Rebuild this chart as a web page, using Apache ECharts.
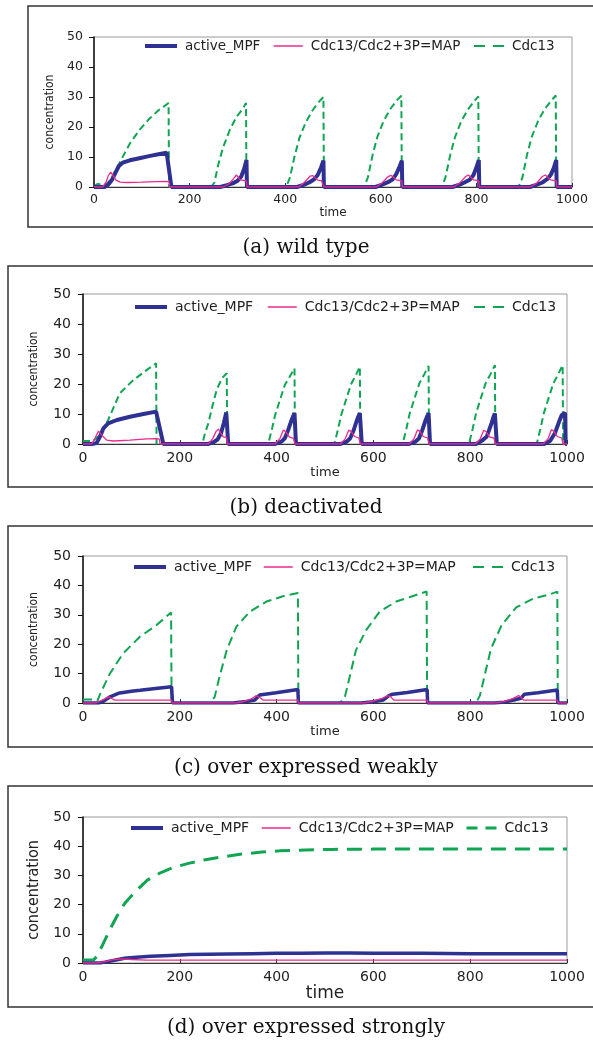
<!DOCTYPE html>
<html><head><meta charset="utf-8">
<script src="https://cdn.jsdelivr.net/npm/echarts@6/dist/echarts.min.js"></script>
<style>html,body{margin:0;padding:0;background:#fff}#c{width:593px;height:1040px}</style>
</head><body><div id="c"></div>
<script>
// ---------- tick labels / categories ----------
const X_MIN = 0, X_MAX = 1000, X_STEP = 200;
const Y_MIN = 0, Y_MAX = 50, Y_STEP = 10;
const SERIES_NAMES = ['active_MPF', 'Cdc13/Cdc2+3P=MAP', 'Cdc13'];
const CAPTIONS = ['(a) wild type', '(b) deactivated', '(c) over expressed weakly', '(d) over expressed strongly'];

// ---------- (a) wild type ----------
const A_MPF_T = [0, 22, 30, 38, 45, 52, 60, 75, 95, 115, 135, 152, 155, 162,
  264, 278, 290, 300, 308, 314, 319, 320,
  425, 440, 450, 460, 468, 475, 480, 481,
  589, 603, 615, 625, 632, 638, 644, 645,
  750, 765, 775, 786, 794, 800, 805, 806,
  912, 927, 938, 948, 956, 962, 967, 968, 1000];
const A_MPF_V = [0, 0, 0.8, 2.5, 4.8, 7.0, 8.1, 8.9, 9.6, 10.3, 10.9, 11.4, 11.5, 0,
  0, 0.6, 1.2, 2.0, 3.5, 6.0, 9.0, 0,
  0, 0.8, 1.5, 2.5, 4.0, 6.5, 8.8, 0,
  0, 0.8, 1.6, 2.6, 4.2, 6.3, 8.8, 0,
  0, 0.8, 1.5, 2.4, 4.0, 6.5, 9.0, 0,
  0, 0.8, 1.5, 2.6, 4.2, 6.4, 9.0, 0, 0];
const A_MAP_T = [0, 18, 25, 30, 35, 40, 46, 55, 70, 100, 130, 150, 157, 158,
  270, 282, 292, 298, 302, 306, 313, 319, 320,
  428, 440, 452, 458, 462, 468, 476, 480, 481,
  590, 603, 615, 621, 626, 632, 639, 644, 645,
  752, 765, 777, 783, 788, 794, 800, 805, 806,
  913, 926, 938, 944, 949, 955, 962, 967, 968, 1000];
const A_MAP_V = [0, 0, 1.5, 3.8, 5.0, 3.8, 2.3, 1.6, 1.5, 1.6, 1.8, 1.9, 1.8, 0,
  0, 1.0, 2.8, 4.0, 3.6, 2.4, 2.2, 2.0, 0,
  0, 1.5, 3.6, 3.8, 3.3, 2.3, 2.1, 2.0, 0,
  0, 1.4, 3.4, 3.9, 3.3, 2.4, 2.2, 2.0, 0,
  0, 1.3, 3.4, 4.0, 3.3, 2.4, 2.2, 2.0, 0,
  0, 1.3, 3.5, 4.0, 3.3, 2.4, 2.2, 2.0, 0, 0];
const A_CDC_T = [0, 8, 15, 25, 35, 45, 55, 75, 95, 115, 135, 150, 156, 157,
  245, 252, 260, 270, 284, 298, 312, 318, 319,
  402, 410, 420, 430, 443, 457, 470, 480, 481,
  565, 573, 583, 593, 606, 620, 633, 643, 644,
  727, 735, 745, 755, 768, 782, 795, 804, 805,
  888, 896, 906, 916, 929, 943, 956, 966, 967, 1000];
const A_CDC_V = [0.3, 1.0, 0.8, 0.8, 2.5, 5.5, 8.5, 14.5, 19.0, 22.6, 25.6, 27.3, 28.0, 0,
  0, 1.5, 7.5, 13.2, 19.0, 23.4, 26.2, 28.0, 0,
  0, 3.2, 10.5, 16.5, 21.5, 25.5, 28.3, 30.0, 0,
  0, 3.2, 10.8, 16.8, 22.0, 26.0, 28.8, 30.4, 0,
  0, 3.0, 10.5, 16.5, 21.8, 25.8, 28.5, 30.2, 0,
  0, 3.0, 10.8, 16.8, 22.0, 26.0, 28.7, 30.5, 0, 0];

// ---------- (b) deactivated ----------
const B_MPF_T = [0, 18, 28, 35, 42, 52, 70, 97, 125, 151, 155, 166,
  258, 270, 278, 285, 291, 296, 297, 299, 300,
  397, 410, 417, 424, 431, 437, 439, 440,
  532, 545, 552, 559, 566, 572, 575, 576,
  674, 687, 694, 701, 708, 714, 716, 717,
  812, 825, 834, 844, 848, 851, 854, 855,
  953, 965, 975, 985, 989, 991, 996, 997, 1000];
const B_MPF_V = [0, 0, 0.3, 2.4, 5.2, 6.9, 8.0, 9.1, 10.0, 10.8, 10.8, 0,
  0, 0.6, 1.5, 3.5, 7.0, 10.5, 10.8, 10.8, 0,
  0, 0.8, 1.9, 4.7, 8.0, 10.3, 10.5, 0,
  0, 0.8, 1.9, 4.5, 8.0, 10.3, 10.5, 0,
  0, 0.8, 1.8, 4.6, 8.0, 10.3, 10.5, 0,
  0, 1.2, 2.4, 6.9, 9.0, 10.2, 10.4, 0,
  0, 1.0, 3.6, 8.0, 9.6, 10.2, 10.4, 0, 0];
const B_MAP_T = [0, 18, 25, 32, 36, 42, 49, 63, 97, 132, 152, 158, 159,
  259, 268, 275, 280, 285, 290, 297, 298,
  397, 407, 414, 419, 426, 435, 437, 438,
  532, 542, 549, 554, 561, 570, 572, 573,
  674, 684, 691, 696, 703, 712, 714, 715,
  811, 821, 828, 833, 840, 849, 851, 852,
  951, 961, 968, 973, 980, 989, 991, 992, 1000];
const B_MAP_V = [0, 0, 2.0, 4.3, 4.8, 2.4, 1.3, 1.0, 1.3, 1.7, 1.8, 1.6, 0,
  0, 1.8, 4.2, 5.0, 3.5, 2.4, 2.1, 0,
  0, 1.9, 4.7, 4.1, 2.4, 1.9, 1.9, 0,
  0, 1.8, 4.6, 4.2, 2.5, 2.0, 1.9, 0,
  0, 1.8, 4.7, 4.2, 2.5, 2.0, 1.9, 0,
  0, 1.8, 4.6, 4.1, 2.4, 2.0, 1.9, 0,
  0, 1.8, 4.8, 4.2, 2.5, 2.0, 1.9, 0, 0];
const B_CDC_T = [0, 20, 24, 35, 52, 76, 104, 132, 151, 152,
  240, 247, 252, 259, 268, 276, 287, 297, 298,
  375, 383, 390, 397, 407, 417, 427, 437, 438,
  512, 520, 527, 534, 544, 554, 564, 572, 573,
  653, 661, 668, 675, 685, 695, 705, 714, 715,
  790, 798, 805, 812, 822, 832, 842, 851, 852,
  930, 938, 945, 952, 962, 972, 982, 991, 992, 1000];
const B_CDC_V = [1.0, 1.0, 0.5, 3.0, 8.0, 16.9, 21.3, 24.7, 26.9, 0,
  0, 0.3, 3.6, 6.9, 13.0, 18.0, 21.9, 23.6, 0,
  0, 0.3, 4.7, 9.7, 14.7, 19.7, 22.4, 25.2, 0,
  0, 0.4, 5.0, 10.0, 15.0, 20.0, 23.0, 25.8, 0,
  0, 0.4, 5.0, 10.2, 15.2, 20.2, 23.2, 26.0, 0,
  0, 0.4, 5.0, 10.2, 15.3, 20.3, 23.3, 26.3, 0,
  0, 0.4, 5.0, 10.2, 15.3, 20.3, 23.3, 26.3, 0, 0];

// ---------- (c) over expressed weakly ----------
const C_MPF_T = [0, 33, 42, 56, 73, 100, 118, 150, 183, 184, 185,
  310, 337, 355, 365, 372, 399, 444, 445,
  575, 600, 620, 632, 640, 670, 711, 712,
  850, 870, 890, 905, 912, 940, 980, 981, 1000];
const C_MPF_V = [0, 0, 0.6, 2.1, 3.3, 4.0, 4.3, 4.9, 5.5, 5.5, 0,
  0, 0.5, 1.0, 2.7, 2.9, 3.5, 4.6, 0,
  0, 0.4, 1.0, 2.5, 3.0, 3.6, 4.6, 0,
  0, 0.3, 1.0, 1.6, 3.0, 3.5, 4.4, 0, 0];
const C_MAP_T = [0, 25, 40, 53, 60, 66, 120, 183, 184,
  315, 335, 350, 358, 366, 372, 444, 445,
  580, 600, 618, 630, 636, 642, 711, 712,
  850, 870, 888, 900, 905, 910, 980, 981, 1000];
const C_MAP_V = [0, 0, 1.0, 2.1, 1.5, 1.0, 1.0, 1.0, 0,
  0, 0.6, 1.6, 2.5, 1.8, 1.0, 1.0, 0,
  0, 0.6, 1.6, 2.5, 2.1, 1.0, 1.0, 0,
  0, 0.5, 1.5, 2.5, 2.0, 1.0, 1.0, 0, 0];
const C_CDC_T = [0, 25, 30, 36, 56, 83, 118, 152, 182, 183,
  262, 272, 282, 297, 317, 345, 379, 413, 444, 445,
  531, 541, 551, 564, 585, 613, 647, 682, 710, 711,
  812, 820, 830, 843, 865, 895, 930, 965, 980, 981, 1000];
const C_CDC_V = [1.2, 1.2, 0.8, 3.3, 10.1, 16.9, 22.6, 26.5, 30.8, 0,
  0, 2.0, 8.9, 18.0, 26.0, 31.1, 34.5, 36.3, 37.4, 0,
  0, 2.0, 8.9, 18.0, 24.8, 31.1, 34.5, 36.4, 37.9, 0,
  0, 2.5, 9.5, 18.5, 26.5, 32.5, 35.5, 37.0, 37.9, 0, 0];

// ---------- (d) over expressed strongly ----------
const D_MPF_T = [0, 35, 45, 60, 86, 110, 140, 180, 220, 260, 300, 350, 400, 450, 500, 550, 600, 700, 800, 900, 1000];
const D_MPF_V = [0, 0, 0.3, 0.8, 1.6, 2.0, 2.3, 2.6, 2.9, 3.0, 3.1, 3.2, 3.3, 3.3, 3.4, 3.4, 3.3, 3.3, 3.2, 3.2, 3.2];
const D_MAP_T = [0, 30, 45, 60, 80, 100, 130, 200, 400, 600, 800, 1000];
const D_MAP_V = [0, 0, 0.5, 1.1, 1.4, 1.2, 1.0, 1.0, 1.0, 1.0, 1.0, 1.0];
const D_CDC_T = [0, 22, 28, 40, 55, 70, 86, 110, 133, 160, 188, 220, 250, 290, 328, 370, 406, 460, 515, 600, 700, 800, 900, 1000];
const D_CDC_V = [1.0, 1.0, 2.2, 6.0, 11.3, 16.0, 20.4, 24.8, 28.4, 30.9, 32.8, 34.2, 35.3, 36.4, 37.3, 38.0, 38.4, 38.7, 38.9, 39.0, 39.0, 39.0, 39.0, 39.0];

// ---------- layout / style ----------
const NAVY = '#2e3192', PINK = '#ee2a8c', GREEN = '#0fa552';
const PANELS = [
  {grid:{left:94,right:21,top:37,height:150}, box:[28,6,221], tick:12.5, leg:13.5, legY:46, legX:[143,273,473],
   yName:{size:12, gap:37}, xName:{size:12, gap:19}, yMargin:11, xMargin:6, capY:248,
   mpf:[A_MPF_T,A_MPF_V], map:[A_MAP_T,A_MAP_V], cdc:[A_CDC_T,A_CDC_V], mpfW:4, dash:[7,4], cdcW:2},
  {grid:{left:83,right:26,top:294,height:150}, box:[8,266,221], tick:14, leg:14, legY:307, legX:[133,267,473],
   yName:{size:12, gap:43}, xName:{size:13, gap:21}, yMargin:12, xMargin:7, capY:508,
   mpf:[B_MPF_T,B_MPF_V], map:[B_MAP_T,B_MAP_V], cdc:[B_CDC_T,B_CDC_V], mpfW:4, dash:[7,4], cdcW:2},
  {grid:{left:83,right:26,top:556,height:147}, box:[8,526,221], tick:14, leg:14, legY:567, legX:[132,263,472],
   yName:{size:12, gap:43}, xName:{size:13, gap:22}, yMargin:12, xMargin:7, capY:768,
   mpf:[C_MPF_T,C_MPF_V], map:[C_MAP_T,C_MAP_V], cdc:[C_CDC_T,C_CDC_V], mpfW:3.5, dash:[9,5], cdcW:2},
  {grid:{left:83,right:26,top:817,height:146}, box:[8,786,221], tick:14, leg:14, legY:828, legX:[129,261,465],
   yName:{size:16, gap:41}, xName:{size:17, gap:20}, yMargin:12, xMargin:7, capY:1028,
   mpf:[D_MPF_T,D_MPF_V], map:[D_MAP_T,D_MAP_V], cdc:[D_CDC_T,D_CDC_V], mpfW:3.5, dash:[15,9], cdcW:3}
];

const zip = (t, v) => t.map((x, i) => [x, v[i]]);
const grids = [], xAxes = [], yAxes = [], series = [], legends = [], graphics = [];
PANELS.forEach((p, i) => {
  grids.push(Object.assign({show:true, borderColor:'#9a9a9a', borderWidth:1, backgroundColor:'#fff'}, p.grid));
  xAxes.push({type:'value', gridIndex:i, min:X_MIN, max:X_MAX, interval:X_STEP,
    name:'time', nameLocation:'middle', nameGap:p.xName.gap,
    nameTextStyle:{fontFamily:'DejaVu Sans', fontSize:p.xName.size, color:'#222'},
    axisLine:{lineStyle:{color:'#333', width:1}}, axisTick:{inside:true, length:4, lineStyle:{color:'#333'}},
    splitLine:{show:false},
    axisLabel:{fontFamily:'DejaVu Sans', fontSize:p.tick, color:'#222', margin:p.xMargin, formatter:v => String(v)}});
  yAxes.push({type:'value', gridIndex:i, min:Y_MIN, max:Y_MAX, interval:Y_STEP,
    name:'concentration', nameLocation:'middle', nameRotate:90, nameGap:p.yName.gap,
    nameTextStyle:{fontFamily:'Liberation Sans Narrow, DejaVu Sans Condensed, Liberation Sans', fontSize:p.yName.size, color:'#222'},
    axisLine:{show:true, lineStyle:{color:'#111', width:1.5}}, axisTick:{show:true, length:5, lineStyle:{color:'#111'}},
    splitLine:{show:false},
    axisLabel:{fontFamily:'DejaVu Sans', fontSize:p.tick, color:'#222', margin:p.yMargin, formatter:v => String(v)}});
  series.push({type:'line', name:SERIES_NAMES[2], xAxisIndex:i, yAxisIndex:i, data:zip(p.cdc[0], p.cdc[1]),
    symbol:'none', z:2, lineStyle:{color:GREEN, width:p.cdcW, type:p.dash}, itemStyle:{color:GREEN}});
  series.push({type:'line', name:SERIES_NAMES[0], xAxisIndex:i, yAxisIndex:i, data:zip(p.mpf[0], p.mpf[1]),
    symbol:'none', z:3, lineStyle:{color:NAVY, width:p.mpfW, join:'bevel'}, itemStyle:{color:NAVY}});
  series.push({type:'line', name:SERIES_NAMES[1], xAxisIndex:i, yAxisIndex:i, data:zip(p.map[0], p.map[1]),
    symbol:'none', z:4, lineStyle:{color:PINK, width:1.3, join:'bevel'}, itemStyle:{color:PINK}});
  const legW = [32, 29, 30], legLW = [4, 1.5, p.cdcW];
  SERIES_NAMES.forEach((nm, k) => {
    legends.push({left:p.legX[k], top:p.legY - 7, padding:0, itemWidth:legW[k], itemHeight:14, selectedMode:false,
      itemStyle:{opacity:0},
      textStyle:{fontFamily:'DejaVu Sans', fontSize:p.leg, color:'#222', padding:[0,0,0,3]},
      data:[{name:nm, lineStyle:{width:legLW[k], type: k === 2 ? [11, 8] : 'solid'}}]});
  });
  graphics.push({type:'rect', shape:{x:p.box[0], y:p.box[1], width:620, height:p.box[2]}, silent:true,
    style:{fill:null, stroke:'#333', lineWidth:1.5}, z:-10});
  graphics.push({type:'text', x:306, y:p.capY, silent:true,
    style:{text:CAPTIONS[i], font:'20px "DejaVu Serif"', fill:'#111', textAlign:'center', textVerticalAlign:'middle'}});
});

const chart = echarts.init(document.getElementById('c'), null, {renderer:'canvas'});
chart.setOption({
  animation:false, backgroundColor:'#fff',
  grid:grids, xAxis:xAxes, yAxis:yAxes, series:series, legend:legends, graphic:graphics
});
</script></body></html>
